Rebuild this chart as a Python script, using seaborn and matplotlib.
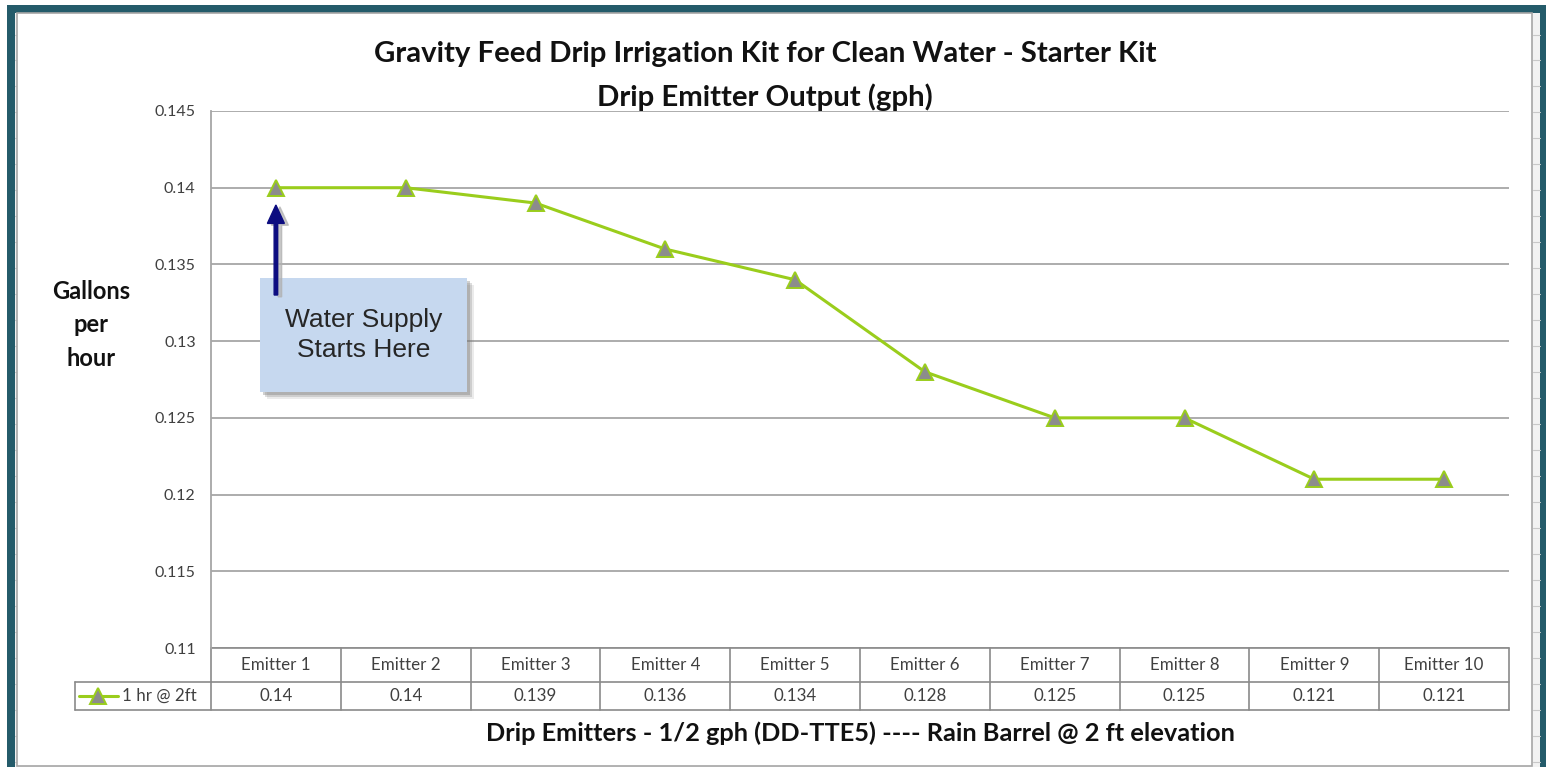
import numpy as np
import pandas as pd
import matplotlib
matplotlib.use("Agg")
import matplotlib.pyplot as plt
import matplotlib.transforms as mtransforms
from matplotlib.patches import Rectangle, FancyArrow
import seaborn as sns

# ---- data ----
categories = ["Emitter 1", "Emitter 2", "Emitter 3", "Emitter 4", "Emitter 5",
              "Emitter 6", "Emitter 7", "Emitter 8", "Emitter 9", "Emitter 10"]
values = [0.14, 0.14, 0.139, 0.136, 0.134, 0.128, 0.125, 0.125, 0.121, 0.121]
value_labels = ["0.14", "0.14", "0.139", "0.136", "0.134", "0.128", "0.125", "0.125", "0.121", "0.121"]
series_name = "1 hr @ 2ft"
y_ticks = [0.11, 0.115, 0.12, 0.125, 0.13, 0.135, 0.14, 0.145]
y_tick_labels = ["0.11", "0.115", "0.12", "0.125", "0.13", "0.135", "0.14", "0.145"]
title = "Gravity Feed Drip Irrigation Kit for Clean Water - Starter Kit\nDrip Emitter Output (gph)"
xlabel = "Drip Emitters - 1/2 gph (DD-TTE5) ---- Rain Barrel @ 2 ft elevation"
ylabel = "Gallons\nper\nhour"
note = "Water Supply\nStarts Here"

sns.set_style("white")
plt.rcParams['font.family'] = ['Lato', 'DejaVu Sans']

W, H = 1546, 767
fig = plt.figure(figsize=(W / 100, H / 100), dpi=100)
fig.patch.set_facecolor("white")

def fx(px):
    return px / W

def fy(py):
    return 1 - py / H

# ---- spreadsheet-like frame ----
teal = "#245b6a"
fig.patches.append(Rectangle((fx(7), fy(767)), fx(1546 - 7), fy(5) - fy(767),
                             transform=fig.transFigure, facecolor=teal, edgecolor="none", zorder=-10))
fig.patches.append(Rectangle((fx(15), fy(767)), fx(1540 - 15), fy(13) - fy(767),
                             transform=fig.transFigure, facecolor="#f2f2f2", edgecolor="none", zorder=-9))
for gx in [114, 240, 372, 1362, 1449]:
    fig.add_artist(plt.Line2D([fx(gx), fx(gx)], [fy(13), fy(16)], transform=fig.transFigure,
                              color="#c8c8c8", lw=0.8, zorder=-8))
for gy in [35, 60, 86, 112, 138, 164, 190, 216, 242, 268, 294, 320, 346, 372, 398, 424, 450,
           476, 502, 528, 554, 580, 606, 632, 658, 684, 710, 736, 762]:
    fig.add_artist(plt.Line2D([fx(15), fx(17)], [fy(gy), fy(gy)], transform=fig.transFigure,
                              color="#c8c8c8", lw=0.8, zorder=-8))
    fig.add_artist(plt.Line2D([fx(1533), fx(1540)], [fy(gy), fy(gy)], transform=fig.transFigure,
                              color="#c8c8c8", lw=0.8, zorder=-8))
fig.patches.append(Rectangle((fx(17), fy(766)), fx(1532 - 17), fy(13) - fy(766),
                             transform=fig.transFigure, facecolor="white", edgecolor="#a6a6a6",
                             lw=1.2, zorder=-7))

# ---- main axes ----
left, right, top, bottom = 211, 1509, 111, 648
ax = fig.add_axes([fx(left), fy(bottom), fx(right - left), fy(top) - fy(bottom)])
ax.set_facecolor("none")

df = pd.DataFrame({"pos": np.arange(len(categories)), "gph": values})
line_color = "#9acd1c"
sns.lineplot(data=df, x="pos", y="gph", ax=ax, color=line_color, lw=2.2,
             marker="^", markersize=12, markerfacecolor="#8c8c8c",
             markeredgecolor=line_color, markeredgewidth=1.4, zorder=3)

ax.set_xlim(-0.5, len(categories) - 0.5)
ax.set_ylim(y_ticks[0], y_ticks[-1])
ax.set_yticks(y_ticks)
ax.set_yticklabels(y_tick_labels)
ax.tick_params(axis="y", length=0, pad=11, labelsize=11.5, labelcolor="#404040")
ax.set_xticks([])
ax.set_xlabel("")
ax.set_ylabel("")
ax.grid(axis="y", color="#a6a6a6", lw=1.3)
for s in ["top", "right", "bottom"]:
    ax.spines[s].set_visible(False)
ax.spines["left"].set_color("#a6a6a6")
ax.spines["left"].set_linewidth(1.3)

# ---- data table under the axes ----
trans = mtransforms.blended_transform_factory(ax.transData, ax.transAxes)
ax_h = bottom - top
row1 = -(682 - bottom) / ax_h
row2 = -(710 - bottom) / ax_h
n = len(categories)
cat_w = (right - left) / n
leg_left = -0.5 - (left - 75) / cat_w
tcol = "#8a8a8a"
kw = dict(transform=trans, color=tcol, lw=1.2, clip_on=False)
ax.plot([-0.5, n - 0.5], [0, 0], **kw)
ax.plot([-0.5, n - 0.5], [row1, row1], **kw)
ax.plot([leg_left, -0.5], [row1, row1], **kw)
ax.plot([leg_left, n - 0.5], [row2, row2], **kw)
ax.plot([leg_left, leg_left], [row1, row2], **kw)
for i in range(n + 1):
    ax.plot([i - 0.5, i - 0.5], [0, row2], **kw)
for i, (c, v) in enumerate(zip(categories, value_labels)):
    ax.text(i, row1 / 2, c, transform=trans, ha="center", va="center", fontsize=12.2, color="#404040")
    ax.text(i, (row1 + row2) / 2, v, transform=trans, ha="center", va="center", fontsize=12.2, color="#404040")
ax.plot([leg_left + 0.03, leg_left + 0.33], [(row1 + row2) / 2] * 2, transform=trans,
        color=line_color, lw=2.2, clip_on=False)
ax.plot([leg_left + 0.18], [(row1 + row2) / 2], transform=trans, marker="^", markersize=12,
        markerfacecolor="#8c8c8c", markeredgecolor=line_color, markeredgewidth=1.4, clip_on=False)
ax.text(leg_left + 0.36, (row1 + row2) / 2, series_name, transform=trans, ha="left", va="center",
        fontsize=12.2, color="#404040")

# ---- titles ----
fig.text(fx(765), fy(54), title.split("\n")[0], ha="center", va="center",
         fontsize=21.2, fontweight="bold", color="#111111")
fig.text(fx(765), fy(97), title.split("\n")[1], ha="center", va="center",
         fontsize=21.2, fontweight="bold", color="#111111")
fig.text(0.5 * (fx(left) + fx(right)), fy(733), xlabel, ha="center", va="center",
         fontsize=18.3, fontweight="bold", color="#111111")
fig.text(fx(91), fy(325), ylabel, ha="center", va="center", fontsize=17, fontweight="bold",
         color="#111111", linespacing=1.55)

# ---- callout ----
def ypix2val(py):
    return y_ticks[-1] - (py - top) / ax_h * (y_ticks[-1] - y_ticks[0])

def xpix2val(px):
    return -0.5 + (px - left) / cat_w

bx0, bx1 = xpix2val(260), xpix2val(467)
by0, by1 = ypix2val(392), ypix2val(278)
for k, a in [(7, 0.15), (5, 0.25), (3, 0.35)]:
    sx, sy = k / cat_w, -k / ax_h * (y_ticks[-1] - y_ticks[0])
    ax.add_patch(Rectangle((bx0 + sx, by0 + sy), bx1 - bx0, by1 - by0, facecolor="#7a7a7a",
                           alpha=a, edgecolor="none", zorder=4))
ax.add_patch(Rectangle((bx0, by0), bx1 - bx0, by1 - by0, facecolor="#c6d8ef",
                       edgecolor="none", zorder=5))
ax.text((bx0 + bx1) / 2, ypix2val(335), note, ha="center", va="center",
        fontsize=19, family=["Liberation Sans", "DejaVu Sans"], color="#262626",
        linespacing=1.3, zorder=6)
ax_y0, ax_y1 = ypix2val(295), ypix2val(205)
ax.add_patch(FancyArrow(0 + 4 / cat_w, ax_y0 - 0.00012, 0, ax_y1 - ax_y0, width=3.5 / cat_w,
                        head_width=17 / cat_w, head_length=0.0012, length_includes_head=True,
                        color="#b0b0b0", alpha=0.7, zorder=6))
ax.add_patch(FancyArrow(0, ax_y0, 0, ax_y1 - ax_y0, width=3.5 / cat_w,
                        head_width=17 / cat_w, head_length=0.0012, length_includes_head=True,
                        color="#0c0c80", zorder=7))

fig.savefig("out.png", dpi=100)
